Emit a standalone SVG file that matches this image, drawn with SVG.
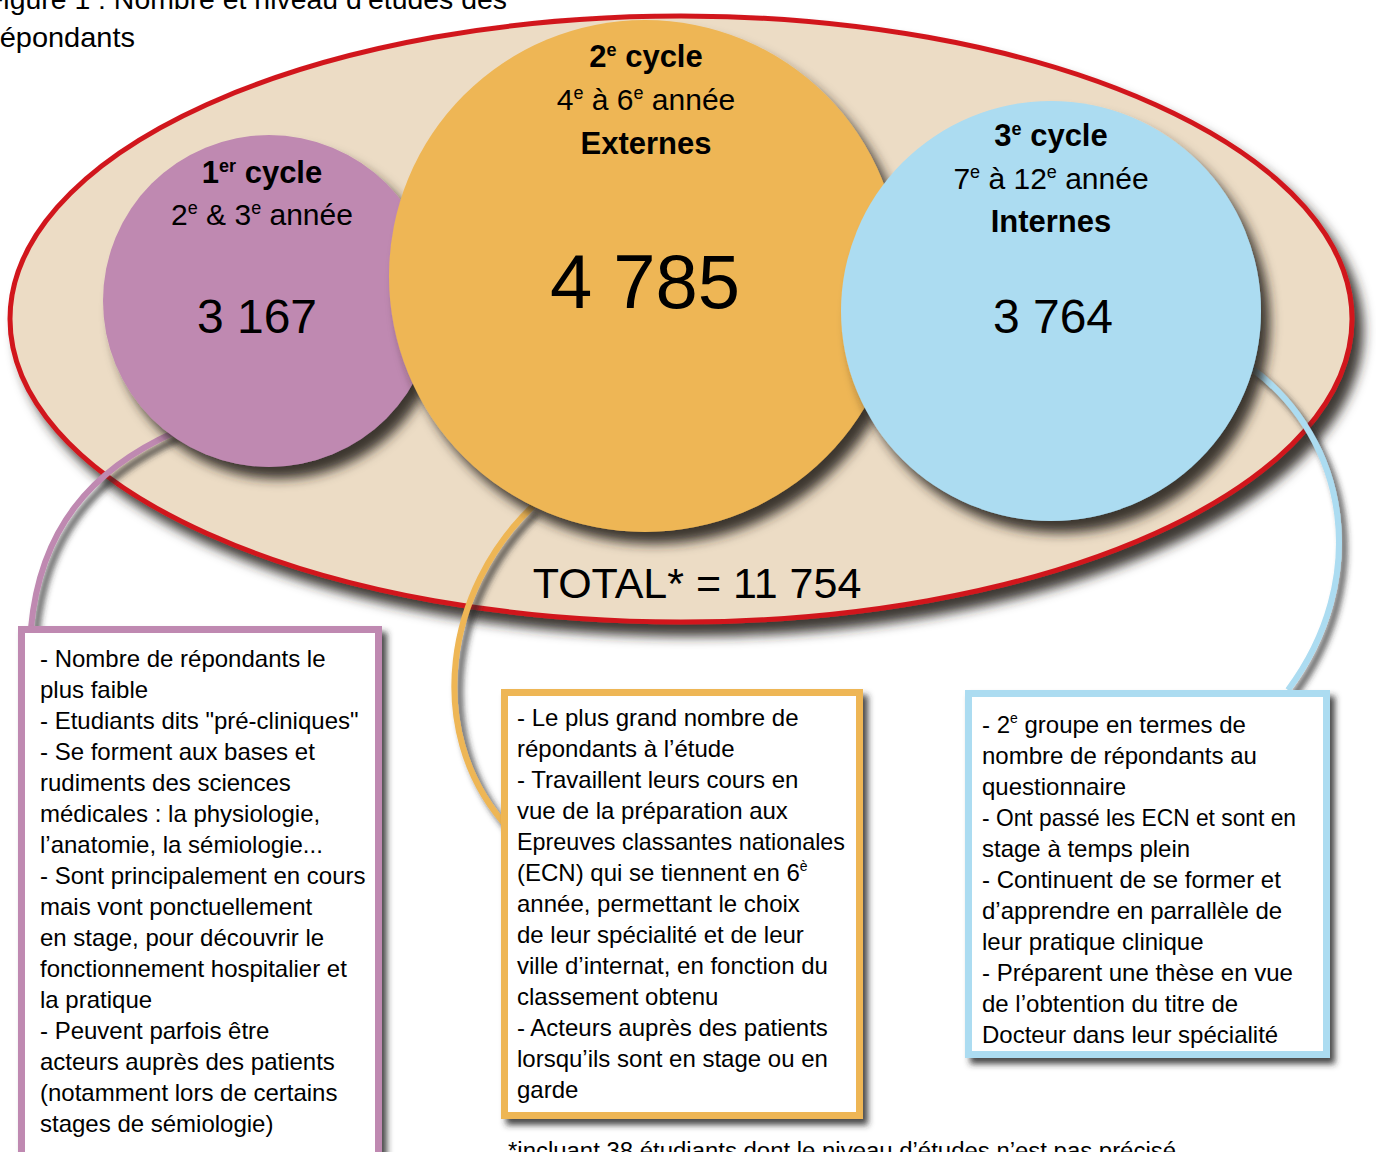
<svg xmlns="http://www.w3.org/2000/svg" width="1376" height="1152" viewBox="0 0 1376 1152">
<defs>
<filter id="shBig" x="-20%" y="-20%" width="150%" height="150%">
<feGaussianBlur in="SourceAlpha" stdDeviation="6"/>
<feOffset dx="9" dy="12" result="b"/>
<feFlood flood-color="#2a2520" flood-opacity="0.9"/>
<feComposite in2="b" operator="in"/>
<feMerge><feMergeNode/><feMergeNode in="SourceGraphic"/></feMerge>
</filter>
<filter id="shSmall" x="-20%" y="-20%" width="150%" height="150%">
<feGaussianBlur in="SourceAlpha" stdDeviation="3"/>
<feOffset dx="5" dy="6" result="b"/>
<feFlood flood-color="#2a2a2a" flood-opacity="0.85"/>
<feComposite in2="b" operator="in"/>
<feMerge><feMergeNode/><feMergeNode in="SourceGraphic"/></feMerge>
</filter>
</defs>
<style>
text{font-family:"Liberation Sans",Arial,sans-serif;fill:#000;}
.t{font-size:24px;}
.h{font-size:31px;font-weight:bold;}
.s{font-size:30px;}
.num{font-size:48px;}
.box{fill:#fff;stroke-width:7;}
.conn{fill:none;stroke-width:6;}
</style>
<rect width="1376" height="1152" fill="#fff"/>
<text x="-14" y="9" style="font-size:28px" textLength="521" lengthAdjust="spacingAndGlyphs">Figure 1 : Nombre et niveau d’études des</text>
<text x="-10" y="47" style="font-size:28px" textLength="145" lengthAdjust="spacingAndGlyphs">répondants</text>

<g id="ensemble">
<ellipse cx="681" cy="319" rx="671" ry="303" fill="#ecdcc5" stroke="#d1171f" stroke-width="5" filter="url(#shBig)"/>
</g>

<g id="connecteurs">
<path class="conn" stroke="#bf89b1" d="M175 432 C90 470 40 530 31 628" filter="url(#shSmall)"/>
<path class="conn" stroke="#eeb655" d="M533 506 C445 590 425 730 503 822" filter="url(#shSmall)"/>
<path class="conn" stroke="#acdcf1" d="M1250 367 C1350 440 1370 580 1288 690" filter="url(#shSmall)"/>
</g>

<g id="cycle1">
<circle cx="269" cy="301" r="166" fill="#bf89b1" filter="url(#shBig)"/>
<text x="262" y="183" text-anchor="middle" class="h">1<tspan dy="-11" style="font-size:18px">er</tspan><tspan dy="11"> cycle</tspan></text>
<text x="262" y="225" text-anchor="middle" class="s">2<tspan dy="-11" style="font-size:18px">e</tspan><tspan dy="11"> &amp; 3</tspan><tspan dy="-11" style="font-size:18px">e</tspan><tspan dy="11"> année</tspan></text>
<text x="257" y="333" text-anchor="middle" class="num">3 167</text>
</g>

<g id="cycle2">
<circle cx="645" cy="276" r="256" fill="#eeb655" filter="url(#shBig)"/>
<text x="646" y="67" text-anchor="middle" class="h">2<tspan dy="-11" style="font-size:18px">e</tspan><tspan dy="11"> cycle</tspan></text>
<text x="646" y="110" text-anchor="middle" class="s">4<tspan dy="-11" style="font-size:18px">e</tspan><tspan dy="11"> à 6</tspan><tspan dy="-11" style="font-size:18px">e</tspan><tspan dy="11"> année</tspan></text>
<text x="646" y="154" text-anchor="middle" class="h">Externes</text>
<text x="645" y="308" text-anchor="middle" style="font-size:76px">4 785</text>
</g>

<g id="cycle3">
<circle cx="1051" cy="311" r="210" fill="#acdcf1" filter="url(#shBig)"/>
<text x="1051" y="146" text-anchor="middle" class="h">3<tspan dy="-11" style="font-size:18px">e</tspan><tspan dy="11"> cycle</tspan></text>
<text x="1051" y="189" text-anchor="middle" class="s">7<tspan dy="-11" style="font-size:18px">e</tspan><tspan dy="11"> à 12</tspan><tspan dy="-11" style="font-size:18px">e</tspan><tspan dy="11"> année</tspan></text>
<text x="1051" y="232" text-anchor="middle" class="h">Internes</text>
<text x="1053" y="333" text-anchor="middle" class="num">3 764</text>
</g>

<g id="total">
<text x="697" y="598" text-anchor="middle" style="font-size:43px">TOTAL* = 11 754</text>
</g>

<g id="box1">
<rect class="box" x="21.5" y="629.5" width="357" height="540" stroke="#bf89b1" filter="url(#shSmall)"/>
<text class="t">
<tspan x="40" y="667">- Nombre de répondants le</tspan>
<tspan x="40" y="698">plus faible</tspan>
<tspan x="40" y="729">- Etudiants dits "pré-cliniques"</tspan>
<tspan x="40" y="760">- Se forment aux bases et</tspan>
<tspan x="40" y="791">rudiments des sciences</tspan>
<tspan x="40" y="822">médicales : la physiologie,</tspan>
<tspan x="40" y="853">l’anatomie, la sémiologie...</tspan>
<tspan x="40" y="884">- Sont principalement en cours</tspan>
<tspan x="40" y="915">mais vont ponctuellement</tspan>
<tspan x="40" y="946">en stage, pour découvrir le</tspan>
<tspan x="40" y="977">fonctionnement hospitalier et</tspan>
<tspan x="40" y="1008">la pratique</tspan>
<tspan x="40" y="1039">- Peuvent parfois être</tspan>
<tspan x="40" y="1070">acteurs auprès des patients</tspan>
<tspan x="40" y="1101">(notamment lors de certains</tspan>
<tspan x="40" y="1132">stages de sémiologie)</tspan>
</text>
</g>

<g id="box2">
<rect class="box" x="504.5" y="692.5" width="355" height="423" stroke="#eeb655" filter="url(#shSmall)"/>
<text class="t">
<tspan x="517" y="726">- Le plus grand nombre de</tspan>
<tspan x="517" y="757">répondants à l’étude</tspan>
<tspan x="517" y="788">- Travaillent leurs cours en</tspan>
<tspan x="517" y="819">vue de la préparation aux</tspan>
</text>
<text class="t" x="517" y="850" textLength="328" lengthAdjust="spacingAndGlyphs">Epreuves classantes nationales</text>
<text class="t">
<tspan x="517" y="881">(ECN) qui se tiennent en 6</tspan><tspan dy="-10" style="font-size:14px">è</tspan>
<tspan x="517" y="912">année, permettant le choix</tspan>
<tspan x="517" y="943">de leur spécialité et de leur</tspan>
<tspan x="517" y="974">ville d’internat, en fonction du</tspan>
<tspan x="517" y="1005">classement obtenu</tspan>
<tspan x="517" y="1036">- Acteurs auprès des patients</tspan>
<tspan x="517" y="1067">lorsqu’ils sont en stage ou en</tspan>
<tspan x="517" y="1098">garde</tspan>
</text>
</g>

<g id="box3">
<rect class="box" x="968.5" y="693.5" width="358" height="361" stroke="#acdcf1" filter="url(#shSmall)"/>
<text class="t">
<tspan x="982" y="733">- 2</tspan><tspan dy="-10" style="font-size:14px">e</tspan><tspan dy="10"> groupe en termes de</tspan>
<tspan x="982" y="764">nombre de répondants au</tspan>
<tspan x="982" y="795">questionnaire</tspan>
</text>
<text class="t" x="982" y="826" textLength="314" lengthAdjust="spacingAndGlyphs">- Ont passé les ECN et sont en</text>
<text class="t">
<tspan x="982" y="857">stage à temps plein</tspan>
<tspan x="982" y="888">- Continuent de se former et</tspan>
<tspan x="982" y="919">d’apprendre en parrallèle de</tspan>
<tspan x="982" y="950">leur pratique clinique</tspan>
<tspan x="982" y="981">- Préparent une thèse en vue</tspan>
<tspan x="982" y="1012">de l’obtention du titre de</tspan>
<tspan x="982" y="1043">Docteur dans leur spécialité</tspan>
</text>
</g>

<text x="508" y="1159" style="font-size:23px" textLength="668" lengthAdjust="spacingAndGlyphs">*incluant 38 étudiants dont le niveau d’études n’est pas précisé</text>
</svg>
